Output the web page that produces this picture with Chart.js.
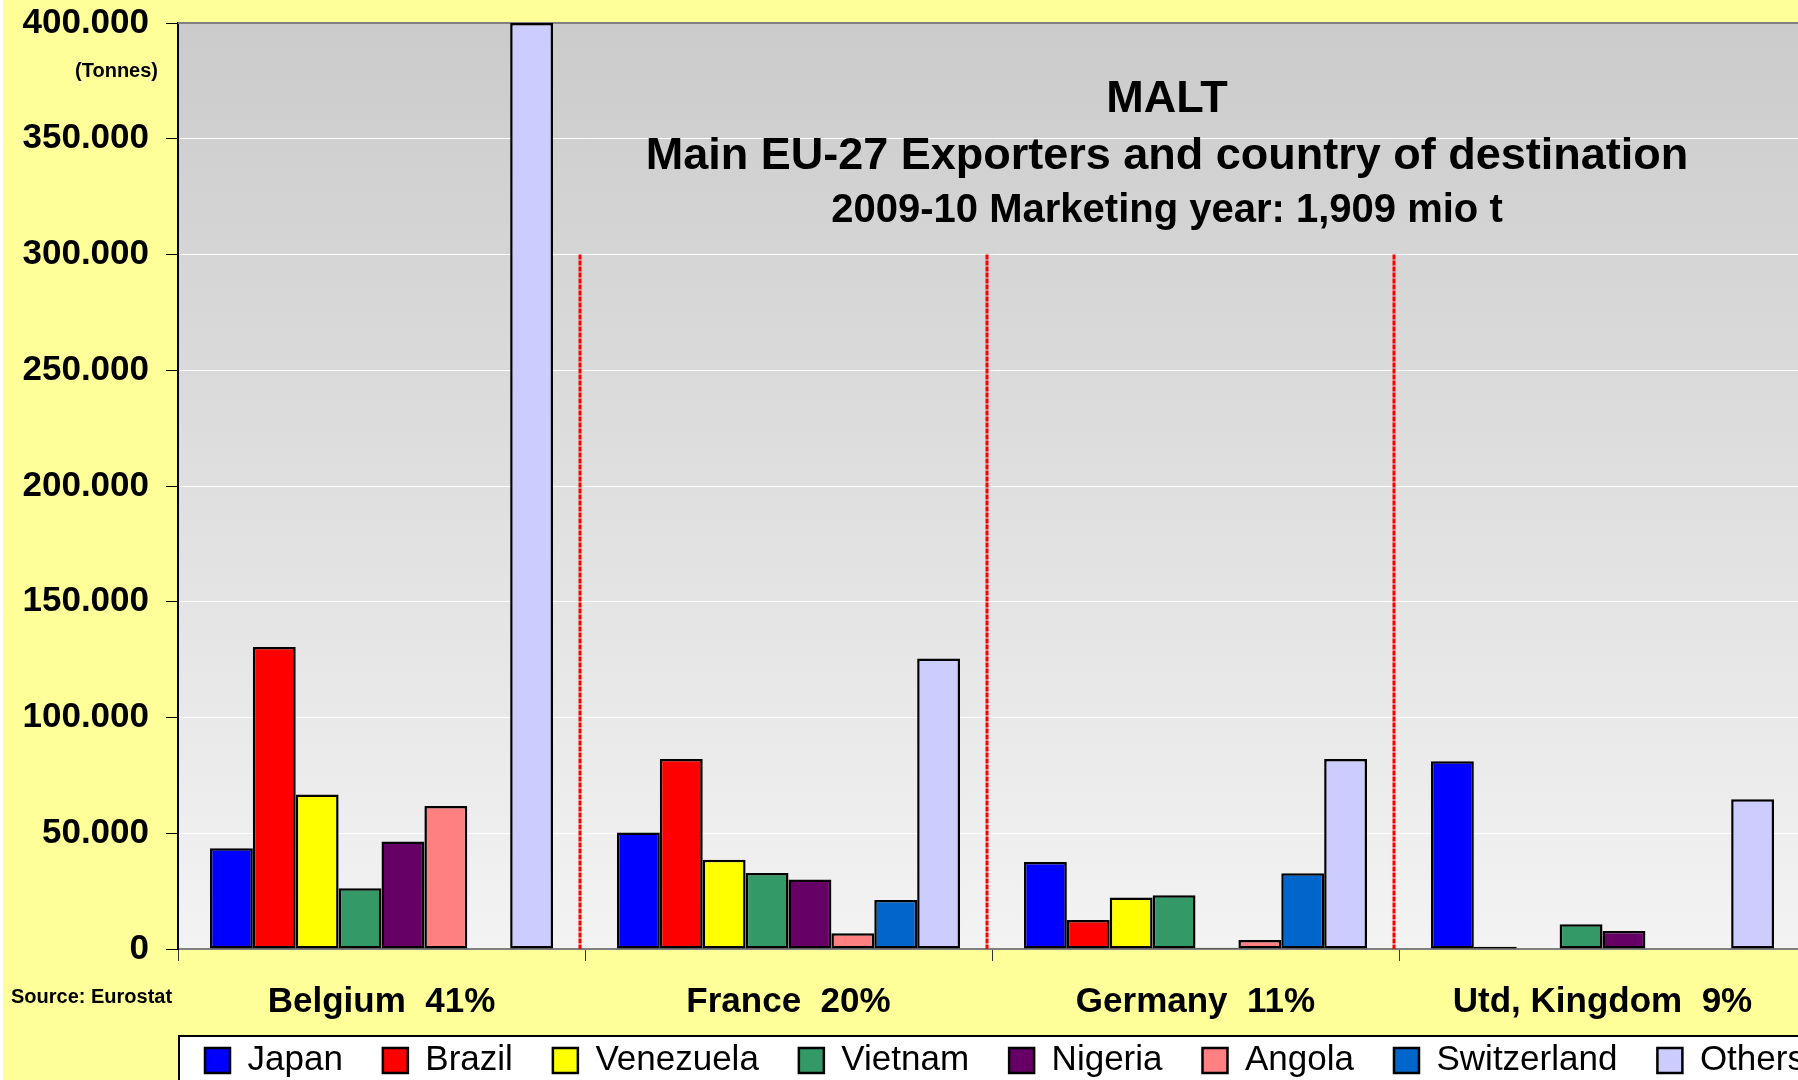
<!DOCTYPE html>
<html>
<head>
<meta charset="utf-8">
<title>MALT - Main EU-27 Exporters</title>
<script src="https://cdn.jsdelivr.net/npm/chart.js@4.4.1/dist/chart.umd.min.js"></script>
<style>
  html, body { margin: 0; padding: 0; background: #fff; overflow: hidden; }
  #wrap { position: relative; width: 1798px; height: 1080px; overflow: hidden; }
  #malt { position: absolute; left: 0; top: 0; }
</style>
</head>
<body>
<div id="wrap"><canvas id="malt" width="1806" height="1121"></canvas></div>
<script>
// exporters (categories) and destination countries (series)
const exporters = ['Belgium  41%', 'France  20%', 'Germany  11%', 'Utd, Kingdom  9%'];

// tonnes
const japan       = [43500, 50300, 37600, 81100];
const brazil      = [130400, 82100, 12500, 1000];
const venezuela   = [66700, 38600, 22200, null];
const vietnam     = [26200, 32800, 23200, 10700];
const nigeria     = [46400, 30000, 500, 7800];
const angola      = [61800, 6800, 3900, null];
const switzerland = [null, 21200, 32700, null];
const others      = [400000, 125500, 82100, 64700];

const yTickValues = [0, 50000, 100000, 150000, 200000, 250000, 300000, 350000, 400000];
const separatorTop = 300000;

const FONT = "'Liberation Sans', Arial, sans-serif";

function dots(v) {
    return String(v).replace(/\B(?=(\d{3})+(?!\d))/g, '.');
}

const series = [
    { label: 'Japan', data: japan, backgroundColor: '#0000ff' },
    { label: 'Brazil', data: brazil, backgroundColor: '#ff0000' },
    { label: 'Venezuela', data: venezuela, backgroundColor: '#ffff00' },
    { label: 'Vietnam', data: vietnam, backgroundColor: '#339966' },
    { label: 'Nigeria', data: nigeria, backgroundColor: '#660066' },
    { label: 'Angola', data: angola, backgroundColor: '#ff8080' },
    { label: 'Switzerland', data: switzerland, backgroundColor: '#0066cc' },
    { label: 'Others', data: others, backgroundColor: '#ccccff' }
];

// background, legend frame, red separators and the free texts
const decor = {
    id: 'decor',
    afterUpdate(chart) {
        const lg = chart.legend;
        lg.left = 165;
        lg.right = 165 + lg.width;
        lg.top = 1003;
        lg.bottom = 1003 + lg.height;
    },
    beforeDraw(chart) {
        const { ctx, chartArea: a } = chart;
        ctx.save();
        ctx.fillStyle = '#ffff99';
        ctx.fillRect(3, 0, chart.width, chart.height);
        const g = ctx.createLinearGradient(0, a.top, 0, a.bottom);
        g.addColorStop(0, '#cbcbcb');
        g.addColorStop(1, '#f3f3f3');
        ctx.fillStyle = g;
        ctx.fillRect(a.left, a.top, a.right - a.left, a.bottom - a.top);
        // legend box
        ctx.fillStyle = '#fff';
        ctx.fillRect(a.left, 1036, chart.width, 200);
        ctx.strokeStyle = '#000';
        ctx.lineWidth = 2;
        ctx.strokeRect(a.left + 1, 1036, chart.width, 200);
        ctx.restore();
    },
    beforeDatasetsDraw(chart) {
        const { ctx, chartArea: a, scales: { x, y } } = chart;
        ctx.save();
        ctx.strokeStyle = '#808080';
        ctx.lineWidth = 2;
        ctx.beginPath();
        ctx.moveTo(a.left, a.top);
        ctx.lineTo(a.right, a.top);
        ctx.stroke();
        ctx.strokeStyle = '#ff0000';
        ctx.lineWidth = 3;
        ctx.setLineDash([5, 1]);
        for (let i = 0; i < exporters.length - 1; i++) {
            const px = (x.getPixelForValue(i) + x.getPixelForValue(i + 1)) / 2 - 5;
            ctx.beginPath();
            ctx.moveTo(px, y.getPixelForValue(separatorTop));
            ctx.lineTo(px, y.getPixelForValue(0));
            ctx.stroke();
        }
        ctx.restore();
    },
    afterDraw(chart) {
        const { ctx, chartArea: a } = chart;
        const cx = a.left + 0.6075 * (a.right - a.left);
        ctx.save();
        ctx.fillStyle = '#000';
        ctx.textBaseline = 'middle';
        ctx.textAlign = 'center';
        ctx.font = 'bold 45px ' + FONT;
        ctx.fillText('MALT', cx, 100);
        ctx.fillText('Main EU-27 Exporters and country of destination', cx, 157);
        ctx.font = 'bold 40px ' + FONT;
        ctx.fillText('2009-10 Marketing year: 1,909 mio t', cx, 211);
        ctx.font = 'bold 20px ' + FONT;
        ctx.textAlign = 'right';
        ctx.fillText('(Tonnes)', 158, 71);
        ctx.textAlign = 'left';
        ctx.fillText('Source: Eurostat', 11, 997);
        ctx.restore();
    }
};

new Chart(document.getElementById('malt'), {
    type: 'bar',
    data: { labels: exporters, datasets: series },
    options: {
        responsive: false,
        animation: false,
        devicePixelRatio: 1,
        layout: { padding: { top: 23, left: 0, right: 0, bottom: 0 } },
        datasets: {
            bar: {
                categoryPercentage: 0.843,
                barPercentage: 1,
                borderColor: '#000',
                borderWidth: 2.5,
                borderSkipped: false
            }
        },
        plugins: {
            legend: {
                position: 'bottom',
                align: 'start',
                labels: {
                    boxWidth: 25,
                    boxHeight: 25,
                    padding: 40,
                    color: '#000',
                    font: { family: FONT, size: 35 }
                }
            },
            tooltip: { enabled: false }
        },
        scales: {
            x: {
                grid: { offset: true, drawOnChartArea: false, tickLength: 12, tickColor: '#333', tickWidth: 1 },
                border: { color: '#808080', width: 2 },
                ticks: { color: '#000', padding: 20, maxRotation: 0, autoSkip: false, font: { family: FONT, size: 35, weight: 'bold' } },
                afterFit(s) { s.height = 87; }
            },
            y: {
                min: 0,
                max: 400000,
                afterBuildTicks(s) { s.ticks = yTickValues.map(v => ({ value: v })); },
                grid: { color: '#ffffff', lineWidth: 1, tickColor: '#000', tickLength: 12 },
                border: { color: '#000', width: 2 },
                ticks: { color: '#000', padding: 17, font: { family: FONT, size: 35, weight: 'bold' }, callback: v => dots(v) },
                afterFit(s) { s.width = 178; s.paddingTop = 0; s.paddingBottom = 0; }
            }
        }
    },
    plugins: [decor]
});
</script>
</body>
</html>
